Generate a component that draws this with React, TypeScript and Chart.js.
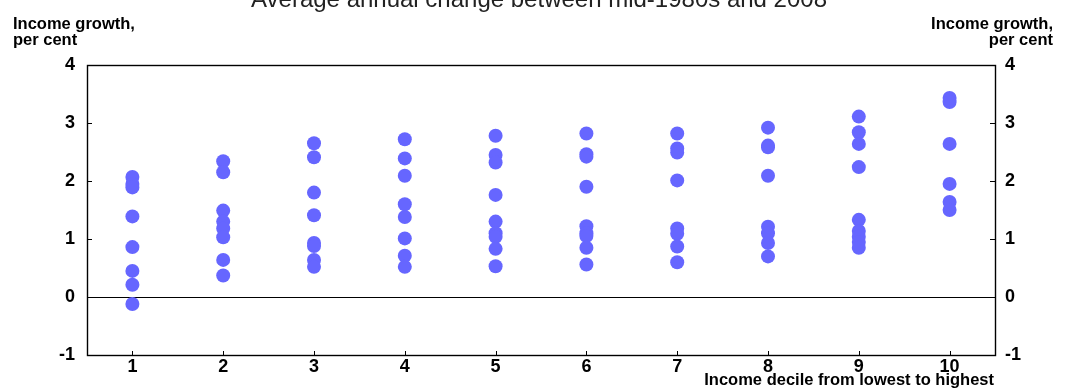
import React, { useEffect, useRef } from 'react';
import { Chart, registerables } from 'chart.js';

Chart.register(...registerables);

// Categories
const deciles = ['1', '2', '3', '4', '5', '6', '7', '8', '9', '10'];

// Average annual income growth (per cent) by decile, one value per country
const decile1 = [2.07, 1.95, 1.89, 1.39, 0.86, 0.45, 0.21, -0.12];
const decile2 = [2.34, 2.15, 1.49, 1.3, 1.18, 1.03, 0.64, 0.37];
const decile3 = [2.65, 2.41, 1.8, 1.41, 0.93, 0.88, 0.64, 0.52];
const decile4 = [2.72, 2.39, 2.09, 1.6, 1.38, 1.01, 0.71, 0.52];
const decile5 = [2.78, 2.45, 2.32, 1.76, 1.3, 1.1, 1.04, 0.83, 0.53];
const decile6 = [2.82, 2.46, 2.42, 1.9, 1.22, 1.1, 1.05, 0.85, 0.56];
const decile7 = [2.82, 2.56, 2.49, 2.01, 1.18, 1.09, 0.87, 0.6];
const decile8 = [2.92, 2.61, 2.58, 2.09, 1.21, 1.1, 0.93, 0.7];
const decile9 = [3.11, 2.84, 2.64, 2.24, 1.33, 1.14, 1.04, 0.95, 0.85];
const decile10 = [3.43, 3.36, 2.64, 1.95, 1.64, 1.5];

// Axis
const yMin = -1;
const yMax = 4;
const yStep = 1;

// Texts
const titleText = 'Average annual change between mid-1980s and 2008';
const yAxisTitle = ['Income growth,', 'per cent'];
const xAxisTitle = 'Income decile from lowest to highest';

const FONT_FAMILY = '"Liberation Sans", Arial, Helvetica, sans-serif';

export default function App() {
  const ref = useRef<HTMLCanvasElement>(null);

  useEffect(() => {
    document.body.style.margin = '0';
    const decileValues = [
      decile1, decile2, decile3, decile4, decile5,
      decile6, decile7, decile8, decile9, decile10,
    ];
    const points = decileValues.flatMap((vals, i) =>
      vals.map((v) => ({ x: deciles[i], y: v }))
    );

    const decor = {
      id: 'decor',
      beforeDatasetsDraw(chart: any) {
        const { ctx, chartArea: a, scales } = chart;
        const W = chart.width;
        ctx.save();
        // zero line
        const y0 = Math.round(scales.y.getPixelForValue(0)) + 0.5;
        ctx.strokeStyle = '#000';
        ctx.lineWidth = 1;
        ctx.beginPath();
        ctx.moveTo(a.left, y0);
        ctx.lineTo(a.right, y0);
        ctx.stroke();
        // box
        ctx.lineWidth = 1.4;
        ctx.strokeRect(Math.round(a.left) + 0.5, Math.round(a.top) + 0.5, Math.round(a.right - a.left), Math.round(a.bottom - a.top));
        // inward ticks
        ctx.lineWidth = 1;
        ctx.beginPath();
        scales.y.ticks.forEach((t: any) => {
          const py = Math.round(scales.y.getPixelForValue(t.value)) + 0.5;
          ctx.moveTo(a.left, py);
          ctx.lineTo(a.left + 5, py);
          ctx.moveTo(a.right, py);
          ctx.lineTo(a.right - 5, py);
        });
        deciles.forEach((_, i) => {
          const px = Math.round(scales.x.getPixelForValue(i)) + 0.5;
          ctx.moveTo(px, a.bottom);
          ctx.lineTo(px, a.bottom - 4);
        });
        ctx.stroke();

        // texts
        ctx.fillStyle = '#000';
        ctx.textBaseline = 'alphabetic';
        ctx.font = `bold 16.5px ${FONT_FAMILY}`;
        ctx.textAlign = 'left';
        ctx.fillText(yAxisTitle[0], 13, 29);
        ctx.fillText(yAxisTitle[1], 13, 45);
        ctx.textAlign = 'right';
        ctx.fillText(yAxisTitle[0], W - 14, 29);
        ctx.fillText(yAxisTitle[1], W - 14, 45);
        ctx.fillText(xAxisTitle, a.right - 1, 385);

        ctx.font = `24px ${FONT_FAMILY}`;
        ctx.fillStyle = '#222';
        ctx.textAlign = 'center';
        ctx.fillText(titleText, 539, 7);
        ctx.restore();
      },
    };

    const tickFont = { family: FONT_FAMILY, size: 18, weight: 'bold' as const };

    const chart = new Chart(ref.current as HTMLCanvasElement, {
      type: 'scatter',
      data: {
        labels: deciles,
        datasets: [
          {
            data: points as any,
            backgroundColor: '#6666ff',
            borderWidth: 0,
            pointRadius: 7,
            pointHoverRadius: 7,
          },
        ],
      },
      options: {
        animation: false,
        responsive: false,
        events: [],
        layout: { padding: { top: 65, left: 0, right: 0, bottom: 0 } },
        plugins: {
          legend: { display: false },
          tooltip: { enabled: false },
          title: { display: false },
        },
        scales: {
          x: {
            type: 'category',
            labels: deciles,
            offset: true,
            grid: { display: false, drawTicks: false, offset: false },
            border: { display: false },
            ticks: { padding: 1, font: tickFont, color: '#000', maxRotation: 0, autoSkip: false },
            afterFit(s: any) { s.height = 36; },
          },
          y: {
            type: 'linear',
            position: 'left',
            min: yMin,
            max: yMax,
            ticks: { stepSize: yStep, padding: 12, font: tickFont, color: '#000' },
            grid: { display: false, drawTicks: false },
            border: { display: false },
            afterFit(s: any) { s.width = 87; },
          },
          y2: {
            type: 'linear',
            position: 'right',
            min: yMin,
            max: yMax,
            ticks: { stepSize: yStep, padding: 10, font: tickFont, color: '#000' },
            grid: { display: false, drawTicks: false },
            border: { display: false },
            afterFit(s: any) { s.width = 72; },
          },
        },
      } as any,
      plugins: [decor],
    });
    return () => chart.destroy();
  }, []);

  return <canvas ref={ref} width={1067} height={391} style={{ display: 'block' }} />;
}
